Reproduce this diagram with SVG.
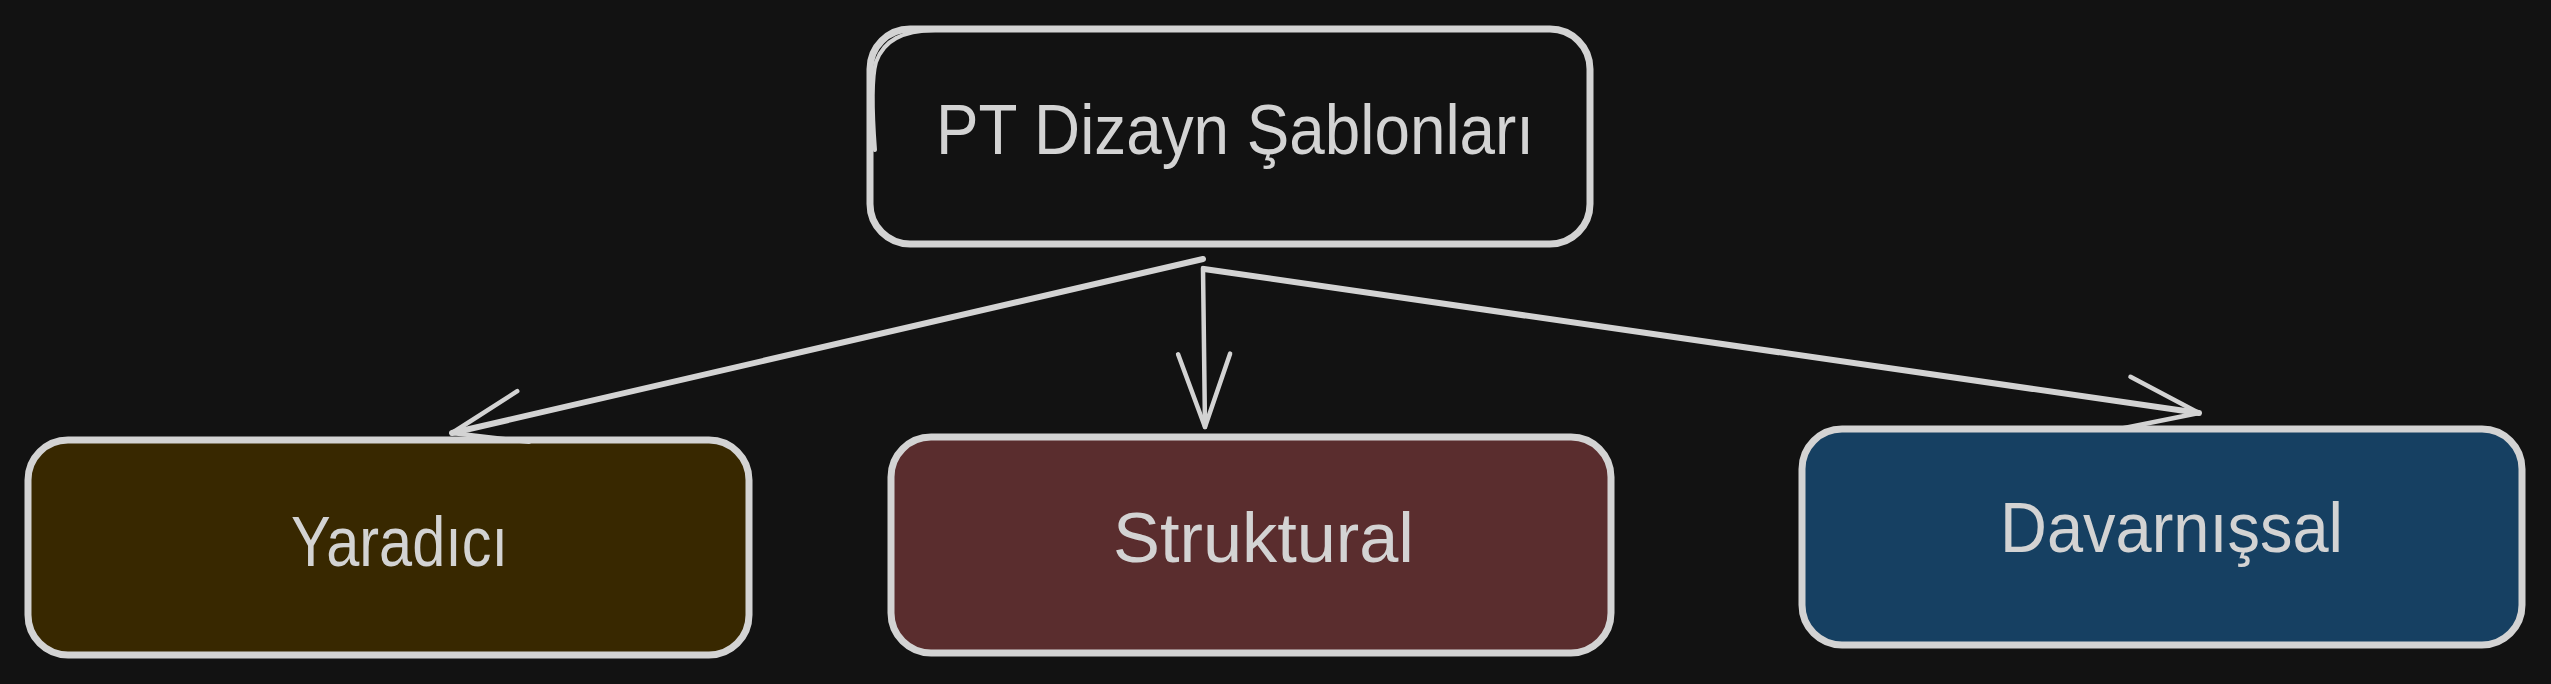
<svg xmlns="http://www.w3.org/2000/svg" width="2551" height="684" viewBox="0 0 2551 684">
<defs>
<style>
.box{stroke:#d3d3d3;stroke-width:7;stroke-linejoin:round}
.sk{fill:none;stroke:#d3d3d3;stroke-width:4;stroke-linecap:round}
.lbl{font-family:"Liberation Sans","DejaVu Sans",sans-serif;font-size:70px;fill:#d3d3d3}
.edge{fill:none;stroke:#d3d3d3;stroke-linecap:round}
</style>
<marker id="ah" markerUnits="userSpaceOnUse" markerWidth="92" markerHeight="66" viewBox="-84 -33 92 66" refX="0" refY="0" orient="auto">
<path d="M -73,-26 L 0,0 L -73,26" fill="none" stroke="#d3d3d3" stroke-width="4.5" stroke-linecap="round" stroke-linejoin="round"/>
</marker>
</defs>
<rect width="2551" height="684" fill="#121212"/>
<g id="root">
<rect class="box" x="870" y="29" width="720" height="215" rx="40" fill="#121212"/>
<path class="sk" d="M 875,150 C 872,110 871,80 876,62 C 884,40 902,31 935,30"/>
<text class="lbl" x="936" y="154" textLength="598" lengthAdjust="spacingAndGlyphs">PT Dizayn Şablonları</text>
</g>
<g id="yaradici">
<rect class="box" x="28" y="440" width="721" height="215" rx="40" fill="#382800"/>
<text class="lbl" x="291" y="566" textLength="217" lengthAdjust="spacingAndGlyphs">Yaradıcı</text>
</g>
<g id="struktural">
<rect class="box" x="891" y="437" width="720" height="216" rx="40" fill="#5a2d2e"/>
<text class="lbl" x="1113" y="562" textLength="301" lengthAdjust="spacingAndGlyphs">Struktural</text>
</g>
<g id="davranissal">
<rect class="box" x="1802" y="429" width="720" height="216" rx="40" fill="#164062"/>
<text class="lbl" x="2000" y="552" textLength="343" lengthAdjust="spacingAndGlyphs">Davarnışsal</text>
</g>
<g id="connectors">
<path class="edge" d="M 1203,259 L 452,433" stroke-width="6" marker-end="url(#ah)"/>
<path class="edge" d="M 1203,268 L 1205,427" stroke-width="4.5" marker-end="url(#ah)"/>
<path class="edge" d="M 1204,269 L 2199,413" stroke-width="6" marker-end="url(#ah)"/>
</g>
</svg>
